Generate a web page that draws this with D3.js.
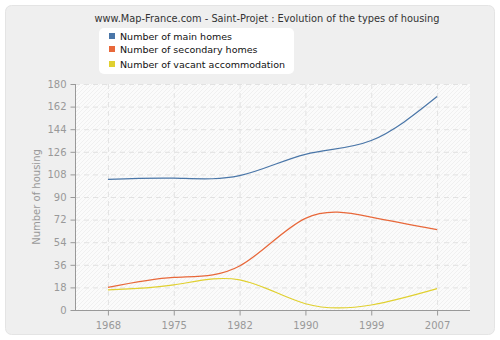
<!DOCTYPE html>
<html><head><meta charset="utf-8">
<script src="https://cdn.jsdelivr.net/npm/d3@7"></script>
<style>body{margin:0;background:#fff;}svg{display:block;font-family:"DejaVu Sans",Verdana,sans-serif;}</style>
</head><body><svg id="c" width="500" height="340"></svg>
<script>
const years = ["1968","1975","1982","1990","1999","2007"];
const mainHomes = [104, 105, 107, 124, 135, 170];
const secondaryHomes = [18, 26, 35, 73, 74, 64];
const vacant = [16, 20, 24, 5, 4, 17];
const yTicks = [0,18,36,54,72,90,108,126,144,162,180];
const seriesNames = ["Number of main homes","Number of secondary homes","Number of vacant accommodation"];
const seriesColors = ["#4a76a8","#e8683a","#e0d030"];
const title = "www.Map-France.com - Saint-Projet : Evolution of the types of housing";

const svg = d3.select("#c");
const defs = svg.append("defs");
const pat = defs.append("pattern").attr("id","hatch").attr("patternUnits","userSpaceOnUse")
  .attr("width",4).attr("height",4);
pat.append("rect").attr("width",4).attr("height",4).attr("fill","#fbfbfb");
pat.append("path").attr("d","M-1,1 l2,-2 M0,4 l4,-4 M3,5 l2,-2").attr("stroke","#f0f0f0").attr("stroke-width",1);

svg.append("rect").attr("x",5.5).attr("y",5.5).attr("width",489).attr("height",329)
  .attr("rx",6).attr("fill","#efefef").attr("stroke","#e4e4e4");

const L=75,R=470,T=84,B=310;
const x = d3.scalePoint().domain(years).range([L,R]).padding(0.5);
const y = d3.scaleLinear().domain([0,180]).range([B,T]);

svg.append("rect").attr("x",L).attr("y",T).attr("width",R-L).attr("height",B-T).attr("fill","url(#hatch)");

// grid
const g = svg.append("g");
g.selectAll(".hg").data(yTicks.slice(1)).join("line")
  .attr("x1",L).attr("x2",R).attr("y1",d=>y(d)+0.5).attr("y2",d=>y(d)+0.5)
  .attr("stroke","#e2e2e2").attr("stroke-dasharray","5,4");
g.selectAll(".vg").data(years).join("line")
  .attr("x1",d=>x(d)+0.5).attr("x2",d=>x(d)+0.5).attr("y1",T).attr("y2",B)
  .attr("stroke","#e2e2e2").attr("stroke-dasharray","5,4");

// axes
const yAxis = d3.axisLeft(y).tickValues(yTicks).tickSize(5).tickPadding(4);
const ya = svg.append("g").attr("transform",`translate(${L+0.5},0)`).call(yAxis);
const xAxis = d3.axisBottom(x).tickSize(5).tickPadding(6);
const xa = svg.append("g").attr("transform",`translate(0,${B+0.5})`).call(xAxis);
[ya,xa].forEach(a=>{
  a.select(".domain").attr("stroke","#999");
  a.selectAll(".tick line").attr("stroke","#999");
  a.selectAll(".tick text").attr("fill","#999").attr("font-size",10).attr("font-family","DejaVu Sans, Verdana, sans-serif");
});
xa.select(".domain").attr("d",`M${L},0H${R}`);
ya.select(".domain").attr("d",`M0,${B}V${T}`);

svg.append("text").attr("transform","translate(40,197) rotate(-90)").attr("text-anchor","middle")
  .attr("fill","#999").attr("font-size",10).text("Number of housing");

// lines
const line = d3.line().x((d,i)=>x(years[i])).y(d=>y(d)).curve(d3.curveNatural);
[mainHomes,secondaryHomes,vacant].forEach((s,i)=>{
  svg.append("path").attr("d",line(s)).attr("fill","none").attr("stroke",seriesColors[i]).attr("stroke-width",1.2);
});

// title
svg.append("text").attr("x",267).attr("y",22).attr("text-anchor","middle").attr("fill","#333")
  .attr("font-size",9.8).text(title);

// legend
svg.append("rect").attr("x",99).attr("y",28).attr("width",195).attr("height",46).attr("rx",5)
  .attr("fill","#fff");
const ly=[36,49,64];
seriesNames.forEach((n,i)=>{
  svg.append("rect").attr("x",109).attr("y",ly[i]-3).attr("width",6).attr("height",6).attr("fill",seriesColors[i]);
  svg.append("text").attr("x",120).attr("y",ly[i]+3.5).attr("fill","#111").attr("font-size",9.5).text(n);
});
</script></body></html>
